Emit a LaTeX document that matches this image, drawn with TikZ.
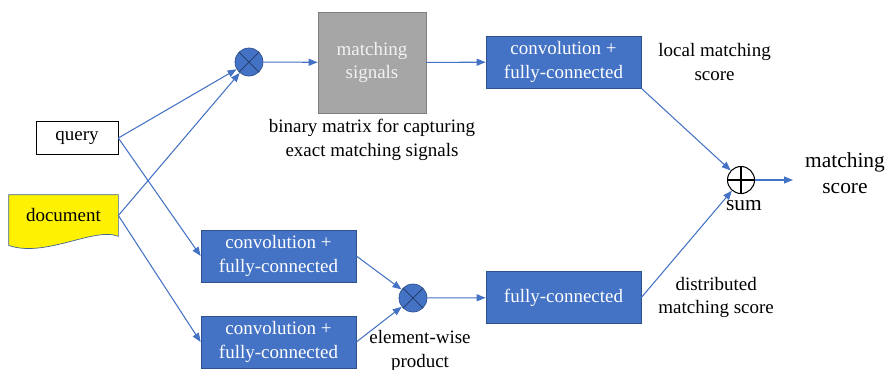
\documentclass[tikz,border=0pt]{standalone}
\usepackage{fontspec}
\setmainfont{Liberation Serif}
\usepackage{xcolor}
\usepackage{tikz}
\usetikzlibrary{positioning,arrows.meta}
\definecolor{officeblue}{RGB}{68,114,196}
\definecolor{officeedge}{RGB}{47,82,143}
\definecolor{sigfill}{RGB}{166,166,166}
\definecolor{sigedge}{RGB}{127,127,127}
\definecolor{docedge}{RGB}{65,100,150}

\begin{document}
\begin{tikzpicture}[
  font=\fontsize{10.8}{13.6}\selectfont,
  blk/.style={draw=officeedge,fill=officeblue,text=white,align=center,minimum width=3.1cm,minimum height=1.04cm,inner sep=2pt},
  plain/.style={draw,align=center,minimum width=1.64cm,minimum height=0.66cm,inner sep=2pt},
  lbl/.style={align=center,inner sep=1pt},
  big/.style={lbl,font=\fontsize{12.2}{14.8}\selectfont},
  mul/.style={circle,draw=officeedge,fill=officeblue,minimum size=5.6mm,inner sep=0pt,
    path picture={\draw[officeedge!70!black] (path picture bounding box.north west) -- (path picture bounding box.south east)
      (path picture bounding box.north east) -- (path picture bounding box.south west);}},
  add/.style={circle,draw,semithick,fill=white,minimum size=5.4mm,inner sep=0pt,
    path picture={\draw (path picture bounding box.north) -- (path picture bounding box.south)
      (path picture bounding box.west) -- (path picture bounding box.east);}},
  arr/.style={-{Triangle[length=1.8mm,width=1.4mm]},officeblue,line width=0.6pt},
]
\useasboundingbox (0,0) rectangle (17.78,-7.38);
\node[plain] (query) at (1.54,-2.76) {query};
\node[lbl,minimum width=2.18cm,minimum height=0.82cm] (doc) at (1.27,-4.31) {};
\draw[draw=docedge,fill=yellow] (doc.north west) -- (doc.north east) -- (doc.south east)
  .. controls +(-0.46,0.2) and +(0.72,-0.26) .. ([yshift=-0.18cm]doc.south west) -- cycle;
\node[lbl] at (doc.center) {document};
\node[mul] (mulA) at (4.98,-1.24) {};
\node[draw=sigedge,fill=sigfill,text=white!95!black,align=center,minimum width=2.16cm,minimum height=2.02cm] (sig) at (7.44,-1.25) {matching\\signals};
\node[lbl,below=0.8mm of sig] (sigcap) {binary matrix for capturing\\exact matching signals};
\node[blk] (convA) at (11.27,-1.24) {convolution +\\fully-connected};
\node[lbl,right=0.3cm of convA] (local) {local matching\\score};
\node[blk] (convB) at (5.57,-5.12) {convolution +\\fully-connected};
\node[blk] (convC) at (5.57,-6.84) {convolution +\\fully-connected};
\node[mul] (mulB) at (8.26,-5.96) {};
\node[lbl,below=0.32cm of mulB,xshift=0.14cm] (elem) {element-wise\\product};
\node[blk] (fc) at (11.27,-5.95) {fully-connected};
\node[lbl,right=0.3cm of fc] (dist) {distributed\\matching score};
\node[add] (sum) at (14.82,-3.60) {};
\node[big,below=0.8mm of sum,xshift=0.06cm] (sumlbl) {sum};
\node[big] (out) at (16.9,-3.46) {matching\\score};
\draw[arr] (query.east) -- (mulA);
\draw[arr] (doc.east) -- (mulA);
\draw[arr] (query.east) -- (convB.west);
\draw[arr] (doc.east) -- (convC.west);
\draw[arr] (mulA) -- (sig);
\draw[arr] (sig) -- (convA);
\draw[arr] (convA.south east) -- (sum);
\draw[arr] (convB.east) -- (mulB);
\draw[arr] (convC.east) -- (mulB);
\draw[arr] (mulB) -- (fc);
\draw[arr] (fc.east) -- (sum);
\draw[arr,shorten >=0.2cm] (sum.east) -- (sum.east -| out.west);
\end{tikzpicture}
\end{document}
